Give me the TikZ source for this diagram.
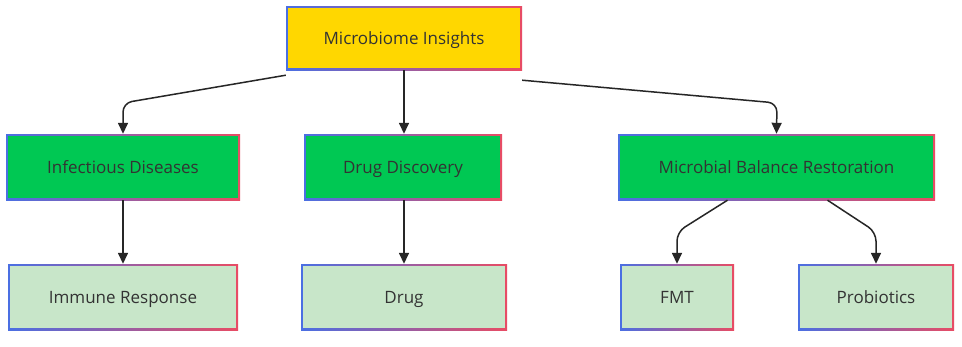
\documentclass[tikz,border=0pt]{standalone}
\usepackage{fontspec}
\setmainfont{Open Sans}
\usetikzlibrary{arrows.meta}
\definecolor{bblue}{HTML}{4A6FE3}
\definecolor{bred}{HTML}{E84C64}
\definecolor{cgold}{HTML}{FFD700}
\definecolor{cgreen}{HTML}{00C853}
\definecolor{clight}{HTML}{C8E6C9}
\definecolor{ctext}{HTML}{333333}
\tikzset{
  gbox/.style n args={3}{rectangle, minimum width=#1pt, minimum height=#2pt, inner sep=0pt,
    left color=bblue, right color=bred, shading angle=90,
    font=\fontsize{17}{20}\selectfont, text=ctext, text height=15pt, text depth=2pt,
    path picture={\fill[#3] ([shift={(1.6pt,-1.6pt)}]path picture bounding box.north west) rectangle ([shift={(-1.6pt,1.6pt)}]path picture bounding box.south east);}},
  conn/.style={draw=black!85, line width=1.5pt, rounded corners=9pt, -{Triangle[length=11pt,width=10pt]}}
}
\begin{document}
\begin{tikzpicture}[x=1pt,y=-1pt]
\useasboundingbox[fill=white] (0,0) rectangle (962,346);
\node[gbox={236}{64}{cgold}] (top) at (404,38) {Microbiome Insights};
\node[gbox={234}{66}{cgreen}] (id) at (123,167) {Infectious Diseases};
\node[gbox={198}{66}{cgreen}] (dd) at (403,167) {Drug Discovery};
\node[gbox={317}{66}{cgreen}] (mbr) at (776.5,167) {Microbial Balance Restoration};
\node[gbox={230}{66}{clight}] (ir) at (123,297) {Immune Response};
\node[gbox={206}{66}{clight}] (drug) at (404,297) {Drug};
\node[gbox={114}{66}{clight}] (fmt) at (677,297) {FMT};
\node[gbox={156}{66}{clight}] (prob) at (876,297) {Probiotics};
\coordinate (b1) at (123,103);
\coordinate (b2) at (777,103);
\coordinate (b3) at (677,232);
\coordinate (b4) at (876,232);
\draw[conn] ([yshift=-5pt]top.south west) -- (b1) -- (id.north);
\draw[conn] (top.south) -- (dd.north -| top.south);
\draw[conn] ([yshift=-10pt]top.south east) -- (b2) -- (mbr.north);
\draw[conn] (id.south) -- (ir.north);
\draw[conn] (dd.south -| drug.north) -- (drug.north);
\draw[conn] ([xshift=-49pt]mbr.south) -- (b3) -- (fmt.north);
\draw[conn] ([xshift=51pt]mbr.south) -- (b4) -- (prob.north);
\end{tikzpicture}
\end{document}
